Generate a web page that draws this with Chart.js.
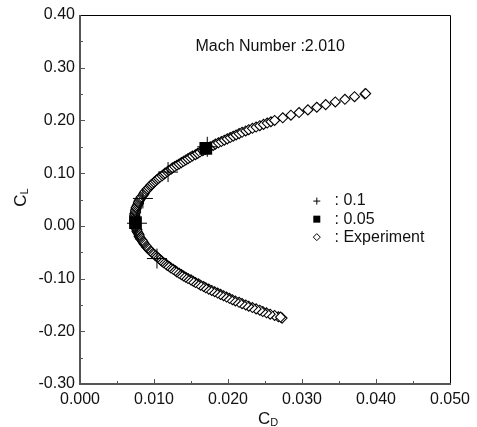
<!DOCTYPE html>
<html>
<head>
<meta charset="utf-8">
<script src="https://cdn.jsdelivr.net/npm/chart.js@4.4.0/dist/chart.umd.min.js"></script>
<style>
  html, body { margin: 0; padding: 0; background: #fff; }
</style>
</head>
<body>
<canvas id="polar" width="477" height="427"></canvas>
<script>
const expCL = [
  -0.175, -0.1725, -0.170, -0.1675, -0.165, -0.1625, -0.160, -0.1575, -0.155, -0.1525,
  -0.150, -0.1475, -0.145, -0.1425, -0.140, -0.1375, -0.135, -0.1325, -0.130, -0.1275,
  -0.125, -0.1225, -0.120, -0.1175, -0.115, -0.1125, -0.110, -0.1075, -0.105, -0.1025,
  -0.100, -0.0975, -0.095, -0.0925, -0.090, -0.0875, -0.085, -0.0825, -0.080, -0.0775,
  -0.075, -0.0725, -0.070, -0.0675, -0.065, -0.0625, -0.060, -0.0575, -0.055, -0.0525,
  -0.050, -0.0475, -0.045, -0.0425, -0.040, -0.0375, -0.035, -0.0325, -0.030, -0.0275,
  -0.025, -0.0225, -0.020, -0.0175, -0.015, -0.0125, -0.010, -0.0075, -0.005, -0.0025,
  0.000, 0.0025, 0.005, 0.0075, 0.010, 0.0125, 0.015, 0.0175, 0.020, 0.0225,
  0.025, 0.0275, 0.030, 0.0325, 0.035, 0.0375, 0.040, 0.0425, 0.045, 0.0475,
  0.050, 0.0525, 0.055, 0.0575, 0.060, 0.0625, 0.065, 0.0675, 0.070, 0.0725,
  0.075, 0.0775, 0.080, 0.0825, 0.085, 0.0875, 0.090, 0.0925, 0.095, 0.0975,
  0.100, 0.1025, 0.105, 0.1075, 0.110, 0.1125, 0.115, 0.1175, 0.120, 0.1225,
  0.125, 0.1275, 0.130, 0.1325, 0.135, 0.1375, 0.140, 0.1425, 0.145, 0.1475,
  0.150, 0.1525, 0.155, 0.1575, 0.160, 0.1625, 0.165, 0.1675, 0.170, 0.1725,
  0.175, 0.1775, 0.180, 0.1825, 0.185, 0.1875, 0.190, 0.1925, 0.195, 0.1975,
  0.200, 0.205, 0.210, 0.215, 0.220, 0.225, 0.230, 0.235, 0.240, 0.245,
  0.250, -0.173, 0.251
];
const expCD = [
  0.0273, 0.0268, 0.0263, 0.0257, 0.0252, 0.0247, 0.0243, 0.0238, 0.0233, 0.0228,
  0.0224, 0.0219, 0.0215, 0.0210, 0.0206, 0.0202, 0.0198, 0.0194, 0.0190, 0.0186,
  0.0182, 0.0178, 0.0174, 0.0170, 0.0167, 0.0163, 0.0160, 0.0156, 0.0153, 0.0150,
  0.0146, 0.0143, 0.0140, 0.0137, 0.0134, 0.0131, 0.0129, 0.0126, 0.0123, 0.0121,
  0.0118, 0.0116, 0.0113, 0.0111, 0.0109, 0.0107, 0.0105, 0.0103, 0.0101, 0.0099,
  0.0097, 0.0095, 0.0093, 0.0092, 0.0090, 0.0089, 0.0087, 0.0086, 0.0085, 0.0084,
  0.0082, 0.0081, 0.0080, 0.0080, 0.0079, 0.0078, 0.0077, 0.0077, 0.0076, 0.0075,
  0.0075, 0.0075, 0.0074, 0.0074, 0.0074, 0.0074, 0.0074, 0.0074, 0.0074, 0.0074,
  0.0075, 0.0075, 0.0075, 0.0076, 0.0076, 0.0077, 0.0078, 0.0079, 0.0079, 0.0080,
  0.0081, 0.0082, 0.0083, 0.0085, 0.0086, 0.0087, 0.0088, 0.0090, 0.0091, 0.0093,
  0.0095, 0.0096, 0.0098, 0.0100, 0.0102, 0.0104, 0.0106, 0.0108, 0.0111, 0.0113,
  0.0115, 0.0118, 0.0120, 0.0123, 0.0125, 0.0128, 0.0131, 0.0134, 0.0137, 0.0140,
  0.0143, 0.0146, 0.0149, 0.0152, 0.0156, 0.0159, 0.0162, 0.0166, 0.0169, 0.0173,
  0.0176, 0.0180, 0.0183, 0.0187, 0.0191, 0.0195, 0.0199, 0.0203, 0.0207, 0.0211,
  0.0215, 0.0219, 0.0224, 0.0228, 0.0233, 0.0238, 0.0243, 0.0248, 0.0253, 0.0258,
  0.0263, 0.0274, 0.0285, 0.0296, 0.0308, 0.0320, 0.0332, 0.0345, 0.0358, 0.0371,
  0.0385, 0.0271, 0.0386
];

// computed results, step 0.1 (crosses) and step 0.05 (filled squares)
const coarseCL = [-0.062, 0.005, 0.052, 0.102, 0.150];
const coarseCD = [0.0104, 0.0077, 0.0085, 0.0119, 0.0172];
const fineCL = [0.006, 0.147];
const fineCD = [0.0075, 0.0170];

const xTicks = [0.000, 0.010, 0.020, 0.030, 0.040, 0.050];
const yTicks = [-0.30, -0.20, -0.10, 0.00, 0.10, 0.20, 0.30, 0.40];

const legendLabels = [': 0.1', ': 0.05', ': Experiment'];
const legendStyles = ['cross', 'rect', 'rectRot'];
const titleText = 'Mach Number :2.010';

const FONT = '"Liberation Sans", Arial, Helvetica, sans-serif';

function pts(xs, ys) {
  return xs.map((v, i) => ({ x: v, y: ys[i] }));
}

// frame, inward ticks, axis titles, inside text and legend
const decor = {
  id: 'decor',
  afterDatasetsDraw(chart) {
    const { ctx, chartArea: a, scales: { x, y } } = chart;
    ctx.save();

    // ticks on the left and bottom axes
    ctx.strokeStyle = '#555';
    ctx.lineWidth = 1;
    ctx.beginPath();
    for (let i = 0; i < yTicks.length; i++) {
      const py = Math.round(y.getPixelForValue(yTicks[i])) + 0.5;
      ctx.moveTo(a.left, py); ctx.lineTo(a.left + 5, py);
      if (i < yTicks.length - 1) {
        const my = Math.round(y.getPixelForValue((yTicks[i] + yTicks[i + 1]) / 2)) + 0.5;
        ctx.moveTo(a.left, my); ctx.lineTo(a.left + 3, my);
      }
    }
    for (let i = 0; i < xTicks.length; i++) {
      const px = Math.round(x.getPixelForValue(xTicks[i])) + 0.5;
      ctx.moveTo(px, a.bottom); ctx.lineTo(px, a.bottom - 5);
      if (i < xTicks.length - 1) {
        const mx = Math.round(x.getPixelForValue((xTicks[i] + xTicks[i + 1]) / 2)) + 0.5;
        ctx.moveTo(mx, a.bottom); ctx.lineTo(mx, a.bottom - 3);
      }
    }
    ctx.stroke();

    // top and right border
    ctx.strokeStyle = '#000';
    ctx.lineWidth = 1;
    ctx.beginPath();
    ctx.moveTo(a.left, Math.round(a.top) + 0.5);
    ctx.lineTo(Math.round(a.right) + 0.5, Math.round(a.top) + 0.5);
    ctx.lineTo(Math.round(a.right) + 0.5, a.bottom);
    ctx.stroke();

    // left and bottom axes, grey and a bit heavier
    ctx.strokeStyle = '#555';
    ctx.lineWidth = 2;
    ctx.beginPath();
    ctx.moveTo(Math.round(a.left), a.top);
    ctx.lineTo(Math.round(a.left), Math.round(a.bottom));
    ctx.lineTo(a.right + 1, Math.round(a.bottom));
    ctx.stroke();

    ctx.fillStyle = '#111';

    // text inside the plot
    ctx.font = '16px ' + FONT;
    ctx.textAlign = 'center';
    ctx.textBaseline = 'middle';
    ctx.fillText(titleText, x.getPixelForValue(0.0257), y.getPixelForValue(0.341));

    // legend
    const lx = x.getPixelForValue(0.0320);
    const tx = x.getPixelForValue(0.0344);
    const rows = [0.047, 0.0127, -0.0214];
    ctx.textAlign = 'left';
    for (let i = 0; i < legendLabels.length; i++) {
      const ly = y.getPixelForValue(rows[i]);
      ctx.lineWidth = 1;
      ctx.strokeStyle = '#000';
      ctx.fillStyle = '#000';
      if (legendStyles[i] === 'cross') {
        ctx.beginPath();
        ctx.moveTo(lx - 3.5, ly); ctx.lineTo(lx + 3.5, ly);
        ctx.moveTo(lx, ly - 3.5); ctx.lineTo(lx, ly + 3.5);
        ctx.stroke();
      } else if (legendStyles[i] === 'rect') {
        ctx.fillRect(lx - 3.5, ly - 3.5, 7, 7);
      } else {
        ctx.beginPath();
        ctx.moveTo(lx - 3.5, ly); ctx.lineTo(lx, ly - 3.5);
        ctx.lineTo(lx + 3.5, ly); ctx.lineTo(lx, ly + 3.5);
        ctx.closePath();
        ctx.fillStyle = '#fff';
        ctx.fill();
        ctx.stroke();
      }
      ctx.fillStyle = '#111';
      ctx.font = '16px ' + FONT;
      ctx.fillText(legendLabels[i], tx, ly);
    }

    // axis titles with subscripts
    ctx.textBaseline = 'alphabetic';
    ctx.textAlign = 'left';
    const cx = (a.left + a.right) / 2 + 3;
    ctx.font = '17px ' + FONT;
    const wC = ctx.measureText('C').width;
    ctx.font = '11px ' + FONT;
    const wD = ctx.measureText('D').width;
    ctx.font = '17px ' + FONT;
    ctx.fillText('C', cx - (wC + wD) / 2, a.bottom + 40);
    ctx.font = '11px ' + FONT;
    ctx.fillText('D', cx - (wC + wD) / 2 + wC, a.bottom + 42);

    const cy = (a.top + a.bottom) / 2 - 2;
    ctx.translate(26, cy);
    ctx.rotate(-Math.PI / 2);
    ctx.font = '11px ' + FONT;
    const wL = ctx.measureText('L').width;
    ctx.font = '17px ' + FONT;
    ctx.fillText('C', -(wC + wL) / 2, 0);
    ctx.font = '11px ' + FONT;
    ctx.fillText('L', -(wC + wL) / 2 + wC, 2);

    ctx.restore();
  }
};

new Chart(document.getElementById('polar').getContext('2d'), {
  type: 'scatter',
  data: {
    datasets: [
      {
        label: '0.05',
        data: pts(fineCD, fineCL),
        pointStyle: 'rect',
        pointRadius: 9,
        backgroundColor: '#000',
        borderColor: '#000',
        borderWidth: 0
      },
      {
        label: '0.1',
        data: pts(coarseCD, coarseCL),
        pointStyle: 'cross',
        pointRadius: 10,
        borderColor: '#000',
        borderWidth: 1
      },
      {
        label: 'Experiment',
        data: pts(expCD, expCL),
        pointStyle: 'rectRot',
        pointRadius: 5,
        backgroundColor: '#fff',
        borderColor: '#000',
        borderWidth: 1.1
      }
    ]
  },
  options: {
    responsive: false,
    animation: false,
    layout: { padding: { left: 0, right: 27, top: 15, bottom: 0 } },
    plugins: { legend: { display: false }, tooltip: { enabled: false } },
    scales: {
      x: {
        type: 'linear',
        min: 0, max: 0.05,
        afterBuildTicks: s => { s.ticks = xTicks.map(v => ({ value: v })); },
        afterFit: s => { s.height = 43; },
        grid: { display: false, drawTicks: false },
        border: { display: false },
        ticks: {
          padding: 6,
          color: '#111',
          font: { family: FONT, size: 16 },
          callback: v => v.toFixed(3),
          maxRotation: 0
        }
      },
      y: {
        type: 'linear',
        min: -0.3, max: 0.4,
        afterBuildTicks: s => { s.ticks = yTicks.map(v => ({ value: v })); },
        afterFit: s => { s.width = 80; },
        grid: { display: false, drawTicks: false },
        border: { display: false },
        ticks: {
          padding: 5,
          color: '#111',
          font: { family: FONT, size: 16 },
          callback: v => v.toFixed(2)
        }
      }
    }
  },
  plugins: [decor]
});
</script>
</body>
</html>
